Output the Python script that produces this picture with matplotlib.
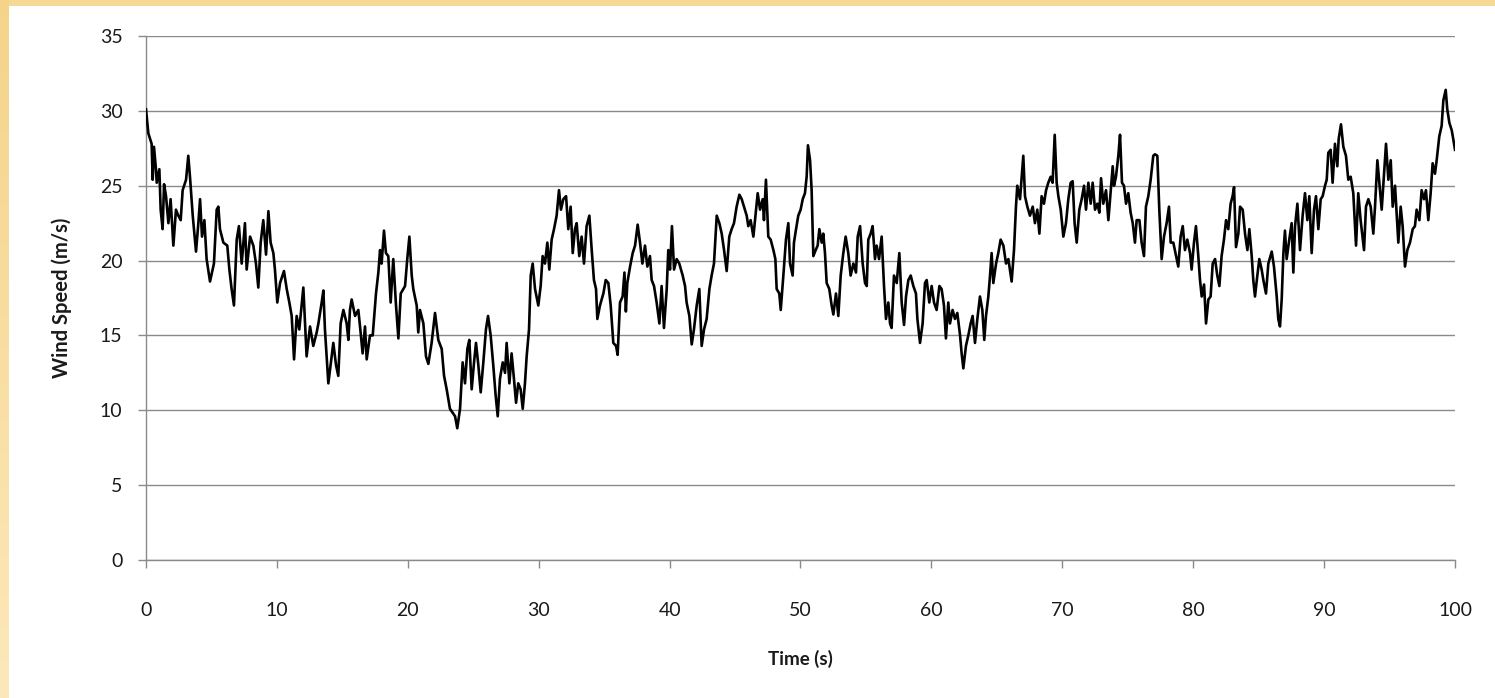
import numpy as np
import matplotlib
matplotlib.use("Agg")
import matplotlib.pyplot as plt

# ---- data ----
time_s = [
    0.0, 0.18, 0.43, 0.51, 0.61, 0.76, 0.82, 1.02, 1.12, 1.27, 1.38, 1.53, 1.71, 1.88, 2.09, 2.29, 2.47, 2.65, 2.80, 3.06,
    3.23, 3.36, 3.57, 3.82, 4.00, 4.13, 4.28, 4.46, 4.63, 4.89, 5.19, 5.40, 5.53, 5.65, 5.91, 6.21, 6.37, 6.54, 6.72, 6.93,
    7.10, 7.31, 7.56, 7.69, 7.95, 8.20, 8.40, 8.58, 8.76, 8.96, 9.17, 9.35, 9.52, 9.73, 9.85, 10.03, 10.24, 10.54, 10.75, 10.95,
    11.13, 11.31, 11.51, 11.71, 12.02, 12.27,
    12.53, 12.78, 13.04, 13.17, 13.42, 13.55, 13.67, 13.93, 14.18, 14.31, 14.52, 14.69, 14.87, 15.08, 15.33, 15.46, 15.58, 15.71,
    15.97, 16.22, 16.35, 16.55, 16.73, 16.86, 17.11, 17.32, 17.57, 17.75, 17.88, 18.00, 18.18, 18.33, 18.51, 18.69, 18.89, 19.10,
    19.28, 19.46, 19.79, 19.96, 20.12, 20.30, 20.42, 20.68, 20.80, 20.93, 21.19, 21.39, 21.57, 21.82, 22.08, 22.33, 22.59, 22.77,
    22.97, 23.22, 23.61, 23.78, 23.99, 24.19, 24.37,
    24.55, 24.70, 24.88, 25.06, 25.21, 25.39, 25.57, 25.77, 25.97, 26.13, 26.33, 26.53, 26.71, 26.87, 27.04, 27.25, 27.43, 27.55,
    27.76, 27.93, 28.11, 28.27, 28.44, 28.62, 28.78, 28.95, 29.08, 29.26, 29.39, 29.54, 29.72, 29.97, 30.15, 30.30, 30.48, 30.66,
    30.81, 30.99, 31.17, 31.37, 31.55, 31.70, 31.88, 32.09, 32.26, 32.44, 32.60, 32.77, 32.90, 33.10, 33.28, 33.46, 33.66, 33.87,
    34.05, 34.22, 34.38, 34.48, 34.68, 34.94, 35.12, 35.32, 35.50, 35.70, 35.91, 36.03, 36.21, 36.41, 36.55,
    36.66, 36.77, 36.98, 37.18, 37.36, 37.56, 37.74, 37.92, 38.12, 38.30, 38.50, 38.63, 38.81, 39.01, 39.22, 39.39, 39.57, 39.78,
    39.90, 40.03, 40.18, 40.34, 40.54, 40.74, 41.00, 41.18, 41.30, 41.51, 41.69, 41.86, 42.07, 42.27, 42.45, 42.63, 42.83, 43.04,
    43.21, 43.39, 43.60, 43.80, 43.98, 44.16, 44.36, 44.56, 44.74, 44.92, 45.12, 45.33, 45.51, 45.68, 45.89, 46.01, 46.19, 46.40,
    46.60, 46.73, 46.91, 47.11, 47.21, 47.36, 47.54, 47.72, 47.93, 48.08, 48.18, 48.38, 48.49, 48.69, 48.89, 49.07,
    49.20, 49.40, 49.50, 49.66, 49.83, 50.01, 50.17, 50.34, 50.47, 50.57, 50.73, 50.85, 50.98, 51.16, 51.31, 51.44, 51.62, 51.74,
    51.87, 52.00, 52.20, 52.38, 52.51, 52.71, 52.89, 53.07, 53.27, 53.45, 53.65, 53.83, 54.04, 54.24, 54.37, 54.55, 54.75, 54.93,
    55.06, 55.18, 55.36, 55.51, 55.69, 55.82, 56.00, 56.20, 56.38, 56.53, 56.71, 56.84, 56.96, 57.14, 57.35, 57.55, 57.73, 57.91,
    58.06, 58.24, 58.42, 58.62, 58.82, 58.93, 59.13, 59.33, 59.51, 59.64, 59.84, 60.02, 60.20, 60.40, 60.61, 60.78, 60.96, 61.11,
    61.29,
    61.42, 61.62, 61.80, 61.98, 62.19, 62.31, 62.44, 62.64, 62.82, 63.00, 63.15, 63.33, 63.51, 63.71, 63.89, 64.04, 64.17, 64.35,
    64.48, 64.60, 64.73, 64.94, 65.11, 65.29, 65.50, 65.70, 65.88, 66.00, 66.13, 66.31, 66.46, 66.56, 66.77, 66.90, 67.02, 67.15,
    67.33, 67.53, 67.74, 67.91, 68.09, 68.25, 68.42, 68.60, 68.76, 68.93, 69.11, 69.26, 69.42, 69.57, 69.70, 69.88, 70.08, 70.28,
    70.46, 70.64, 70.79, 70.94, 71.10, 71.30, 71.48, 71.66, 71.81, 71.99, 72.17, 72.32, 72.50, 72.68, 72.83, 72.96, 73.13, 73.34,
    73.52,
    73.70, 73.85, 73.95, 74.10, 74.28, 74.41, 74.56, 74.71, 74.87, 75.04, 75.22, 75.38, 75.55, 75.68, 75.89, 76.06, 76.24, 76.39,
    76.57, 76.75, 76.95, 77.08, 77.26, 77.41, 77.59, 77.77, 77.97, 78.15, 78.28, 78.48, 78.69, 78.86, 79.04, 79.20, 79.37, 79.55,
    79.76, 79.88, 80.06, 80.21, 80.39, 80.52, 80.65, 80.83, 80.98, 81.16, 81.33, 81.49, 81.67, 81.84, 82.00, 82.17, 82.35, 82.51,
    82.68, 82.86, 83.01, 83.12, 83.27, 83.45, 83.58, 83.78, 83.96, 84.14, 84.29, 84.47, 84.59, 84.72, 84.90, 85.05, 85.23, 85.36,
    85.56, 85.74,
    86.00, 86.17, 86.38, 86.50, 86.63, 86.76, 86.89, 87.01, 87.14, 87.34, 87.52, 87.65, 87.78, 87.96, 88.16, 88.36, 88.54, 88.72,
    88.87, 89.05, 89.23, 89.38, 89.56, 89.74, 89.89, 90.07, 90.20, 90.32, 90.50, 90.65, 90.83, 91.01, 91.11, 91.29, 91.47, 91.67,
    91.85, 92.03, 92.23, 92.44, 92.61, 92.79, 93.05, 93.20, 93.38, 93.56, 93.76, 93.89, 94.07, 94.22, 94.40, 94.58, 94.73, 94.91,
    95.09, 95.24, 95.42, 95.54, 95.67, 95.85, 96.00, 96.18, 96.36, 96.56, 96.77, 96.94, 97.07, 97.28, 97.45, 97.63, 97.78, 97.96,
    98.14, 98.29, 98.47, 98.60, 98.80, 98.98, 99.11, 99.29, 99.41, 99.57, 99.75, 99.87, 100.0,
]

wind_speed = [
    30.1, 28.5, 27.8, 25.4, 27.6, 26.1, 25.2, 26.1, 23.4, 22.1, 25.1, 24.3, 22.5, 24.1, 21.0, 23.4, 23.0, 22.7, 24.7, 25.4,
    27.0, 25.6, 23.0, 20.6, 22.5, 24.1, 21.6, 22.7, 20.1, 18.6, 19.8, 23.4, 23.6, 22.1, 21.2, 21.0, 19.4, 18.1, 17.0, 21.4,
    22.3, 19.8, 22.5, 19.4, 21.6, 21.0, 19.8, 18.2, 21.2, 22.7, 20.4, 23.3, 21.2, 20.5, 19.4, 17.2, 18.5, 19.3, 18.1, 17.2,
    16.3, 13.4, 16.3, 15.4, 18.2, 13.6,
    15.6, 14.3, 15.2, 15.8, 17.2, 18.0, 15.4, 11.8, 13.6, 14.5, 13.0, 12.3, 15.8, 16.7, 15.8, 14.7, 16.7, 17.4,
    16.3, 16.7, 15.6, 13.8, 15.6, 13.4, 15.0, 15.0, 17.8, 19.2, 20.7, 19.8, 22.0, 20.5, 20.3, 17.2, 20.1, 17.0,
    14.8, 17.8, 18.3, 20.1, 21.6, 19.0, 18.1, 17.0, 15.2, 16.7, 15.8, 13.6, 13.1, 14.5, 16.5, 14.7, 14.1, 12.3,
    11.4, 10.1, 9.6, 8.8, 10.1, 13.2, 11.8,
    14.1, 14.7, 11.4, 13.2, 14.5, 13.0, 11.2, 13.2, 15.4, 16.3, 15.0, 13.0, 11.0, 9.6, 12.1, 13.2, 12.5, 14.5,
    11.8, 13.8, 12.1, 10.5, 11.8, 11.4, 10.1, 11.8, 13.6, 15.4, 19.0, 19.8, 18.1, 17.0, 18.3, 20.3, 19.8, 21.2,
    19.4, 21.4, 22.1, 23.0, 24.7, 23.4, 24.1, 24.3, 22.1, 23.6, 20.5, 22.1, 22.5, 20.3, 21.6, 19.8, 22.3, 23.0,
    20.7, 18.7, 18.1, 16.1, 17.0, 17.8, 18.7, 18.5, 17.0, 14.5, 14.3, 13.7, 17.2, 17.6, 19.2,
    16.6, 18.5, 19.6, 20.5, 21.0, 22.4, 21.2, 19.8, 21.0, 19.6, 20.3, 18.7, 18.3, 17.2, 15.8, 18.3, 15.5, 18.1,
    20.7, 19.4, 22.3, 19.4, 20.1, 19.8, 19.0, 18.3, 17.2, 16.3, 14.4, 15.4, 17.0, 18.1, 14.3, 15.4, 16.1, 18.1,
    19.0, 19.8, 23.0, 22.5, 21.8, 20.7, 19.3, 21.6, 22.1, 22.5, 23.6, 24.4, 24.1, 23.6, 23.0, 22.3, 22.7, 21.6,
    23.4, 24.5, 23.4, 24.1, 22.7, 25.4, 21.6, 21.4, 20.7, 20.1, 18.1, 17.8, 16.7, 19.0, 21.4, 22.5,
    19.8, 19.0, 21.2, 22.1, 23.0, 23.4, 24.1, 24.5, 25.6, 27.7, 26.7, 24.7, 20.3, 20.7, 21.0, 22.1, 21.2, 21.8,
    20.5, 18.5, 18.1, 17.0, 16.4, 17.8, 16.3, 19.0, 20.5, 21.6, 20.5, 19.0, 19.8, 19.2, 21.6, 22.3, 19.8, 18.5,
    18.3, 21.4, 21.8, 22.3, 20.1, 21.0, 20.1, 21.6, 18.3, 16.1, 17.2, 15.8, 15.5, 19.0, 18.5, 20.5, 17.2, 15.7,
    17.6, 18.7, 19.0, 18.3, 17.8, 16.1, 14.5, 15.8, 18.5, 18.7, 17.2, 18.3, 17.2, 16.7, 18.3, 18.1, 17.0, 14.8,
    17.2,
    15.8, 16.7, 16.1, 16.5, 15.0, 13.8, 12.8, 14.3, 15.0, 15.8, 16.3, 14.5, 16.1, 17.6, 16.7, 14.7, 16.3, 17.6,
    19.0, 20.5, 18.5, 19.8, 20.5, 21.4, 21.0, 19.8, 20.1, 19.4, 18.6, 20.7, 23.6, 25.0, 24.1, 25.6, 27.0, 24.3,
    23.6, 23.0, 23.6, 22.5, 23.4, 21.8, 24.3, 23.8, 24.7, 25.2, 25.6, 25.2, 28.4, 25.2, 24.3, 23.4, 21.6, 22.5,
    24.1, 25.2, 25.3, 22.5, 21.2, 23.4, 24.1, 25.0, 23.4, 25.2, 23.8, 25.2, 23.4, 23.8, 23.2, 25.5, 23.8, 24.7,
    22.7,
    24.7, 26.3, 25.0, 25.6, 27.0, 28.4, 25.2, 25.0, 23.8, 24.5, 23.2, 22.5, 21.2, 22.7, 22.7, 21.2, 20.3, 23.6,
    24.3, 25.4, 27.0, 27.1, 27.0, 23.4, 20.1, 21.6, 22.5, 23.6, 21.2, 21.2, 20.3, 19.6, 21.6, 22.3, 20.7, 21.4,
    20.5, 19.4, 21.2, 22.3, 20.3, 18.7, 17.6, 18.4, 15.8, 17.4, 17.6, 19.8, 20.1, 19.0, 18.3, 20.3, 21.4, 22.7,
    22.1, 23.8, 24.3, 24.9, 20.9, 21.8, 23.6, 23.4, 21.8, 20.7, 22.1, 20.3, 18.7, 17.6, 19.0, 20.1, 19.4, 18.7,
    17.8, 19.8,
    20.6, 19.6, 17.6, 16.1, 15.6, 17.4, 20.5, 22.0, 20.1, 21.4, 22.5, 19.2, 22.3, 23.8, 20.7, 23.0, 24.5, 22.7,
    24.3, 20.5, 23.4, 24.3, 22.1, 24.1, 24.3, 25.0, 25.4, 27.2, 27.4, 25.2, 27.8, 26.3, 28.1, 29.1, 27.6, 27.0,
    25.4, 25.6, 24.5, 21.0, 24.5, 22.7, 20.7, 23.6, 24.1, 23.6, 21.8, 23.6, 26.7, 25.2, 23.4, 25.8, 27.8, 25.4,
    26.7, 23.6, 25.0, 23.2, 21.2, 23.6, 22.3, 19.6, 20.7, 21.2, 22.1, 22.3, 23.4, 22.7, 24.7, 24.1, 24.7, 22.7,
    24.5, 26.5, 25.8, 26.7, 28.3, 29.0, 30.7, 31.4, 30.1, 29.2, 28.7, 28.1, 27.4,
]

x_ticks = [0, 10, 20, 30, 40, 50, 60, 70, 80, 90, 100]
y_ticks = [0, 5, 10, 15, 20, 25, 30, 35]
x_label = "Time (s)"
y_label = "Wind Speed (m/s)"

# ---- figure ----
plt.rcParams['font.family'] = ['Lato', 'DejaVu Sans']
W, H = 1495, 698
fig = plt.figure(figsize=(W / 100, H / 100), dpi=100)
fig.patch.set_facecolor('white')

# decorative border (left gradient band + top band)
band = fig.add_axes([0, 0, 9 / W, 1])
grad = np.linspace(0, 1, 256).reshape(-1, 1)
top_c = np.array([245, 212, 138]) / 255
bot_c = np.array([252, 232, 186]) / 255
img = top_c[None, None, :] * (1 - grad[:, :, None]) + bot_c[None, None, :] * grad[:, :, None]
band.imshow(img, aspect='auto', extent=[0, 1, 0, 1])
band.axis('off')
fig.add_artist(plt.Rectangle((0, 1 - 6 / H), 1, 6 / H, transform=fig.transFigure,
                             facecolor='#F6D995', edgecolor='none', zorder=0))

ax = fig.add_axes([146 / W, 1 - 560 / H, (1455 - 146) / W, (560 - 36) / H])
grid_c = '#8a8a8a'
ax.plot(time_s, wind_speed, color='black', lw=1.9, solid_joinstyle='round', zorder=3)

ax.set_xlim(0, 100)
ax.set_ylim(0, 35)
ax.set_xticks(x_ticks)
ax.set_yticks(y_ticks)
ax.yaxis.grid(True, color=grid_c, lw=1.0)
ax.set_axisbelow(True)
for s in ['top', 'right']:
    ax.spines[s].set_visible(False)
for s in ['left', 'bottom']:
    ax.spines[s].set_color(grid_c)
    ax.spines[s].set_linewidth(1.0)
ax.tick_params(axis='x', direction='out', length=6, width=1.0, color=grid_c,
               labelsize=14, labelcolor='#1a1a1a', pad=24)
ax.tick_params(axis='y', direction='out', length=6, width=1.0, color=grid_c,
               labelsize=14, labelcolor='#1a1a1a', pad=11)

ax.set_xlabel(x_label, fontsize=13.5, fontweight='bold', color='#1a1a1a')
ax.set_ylabel(y_label, fontsize=14.5, fontweight='bold', color='#1a1a1a')
ax.xaxis.set_label_coords(0.5, (560 - 650) / 524, transform=ax.transAxes)
ax.yaxis.set_label_coords((72 - 146) / 1309, 0.5, transform=ax.transAxes)

fig.savefig('out.png', dpi=100)
